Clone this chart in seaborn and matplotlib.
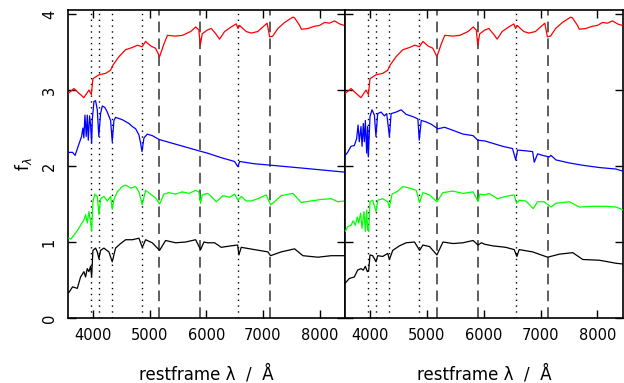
import matplotlib
matplotlib.use("Agg")
import matplotlib.pyplot as plt
import seaborn as sns
import pandas as pd

# --- values ---
# red spectrum (same in both panels)
wl_red = [3570, 3665, 3750, 3840, 3930, 3972, 4000, 4105, 4225, 4310, 4355, 4460, 4575, 4695, 4785,
          4870, 4930, 5020, 5105, 5177, 5255, 5315, 5460, 5580, 5725, 5815, 5870, 5895, 5930, 6020,
          6090, 6180, 6235, 6325, 6440, 6530, 6560, 6590, 6705, 6795, 6910, 7030, 7075, 7120, 7175,
          7265, 7385, 7530, 7560, 7650, 7680, 7795, 7915, 8000, 8090, 8175, 8265, 8355, 8440]
flux_red = [2.96, 3.02, 2.96, 2.90, 3.00, 2.94, 3.15, 3.20, 3.22, 3.26, 3.33, 3.44, 3.53, 3.56, 3.59,
            3.57, 3.64, 3.58, 3.55, 3.44, 3.61, 3.72, 3.71, 3.72, 3.77, 3.83, 3.79, 3.59, 3.74, 3.79,
            3.81, 3.73, 3.67, 3.77, 3.83, 3.87, 3.81, 3.85, 3.77, 3.75, 3.77, 3.85, 3.88, 3.70, 3.71,
            3.81, 3.89, 3.96, 3.95, 3.85, 3.80, 3.81, 3.84, 3.85, 3.89, 3.88, 3.91, 3.87, 3.85]

# left panel
wl_blue_l = [3570, 3640, 3685, 3735, 3800, 3823, 3840, 3859, 3882, 3900, 3918, 3941, 3958, 3977, 3990,
             4018, 4047, 4077, 4104, 4135, 4165, 4212, 4253, 4312, 4341, 4371, 4400, 4518, 4636, 4695,
             4754, 4812, 4842, 4866, 4901, 4960, 5048, 5165, 5400, 5636, 5870, 6020, 6265, 6500, 6560,
             6590, 6850, 7150, 7735, 8440]
flux_blue_l = [2.18, 2.18, 2.14, 2.25, 2.39, 2.50, 2.37, 2.67, 2.39, 2.67, 2.34, 2.66, 2.55, 2.30, 2.62,
               2.85, 2.86, 2.74, 2.39, 2.69, 2.79, 2.77, 2.71, 2.60, 2.32, 2.60, 2.64, 2.61, 2.56, 2.52,
               2.49, 2.41, 2.30, 2.19, 2.37, 2.42, 2.40, 2.35, 2.30, 2.25, 2.20, 2.17, 2.11, 2.06, 1.99,
               2.06, 2.03, 2.01, 1.97, 1.92]

wl_green_l = [3570, 3612, 3665, 3724, 3782, 3841, 3870, 3900, 3929, 3958, 3977, 4000, 4035, 4077, 4106,
              4135, 4194, 4253, 4312, 4341, 4371, 4430, 4518, 4577, 4665, 4754, 4812, 4870, 4930, 5018,
              5106, 5177, 5253, 5342, 5459, 5577, 5695, 5813, 5871, 5900, 5930, 6019, 6060, 6178, 6295,
              6412, 6500, 6560, 6618, 6706, 6795, 6912, 7059, 7136, 7206, 7324, 7530, 7677, 7854, 8030,
              8207, 8324, 8440]
flux_green_l = [1.05, 1.04, 1.09, 1.15, 1.22, 1.29, 1.36, 1.25, 1.40, 1.27, 1.14, 1.53, 1.63, 1.60, 1.36,
                1.57, 1.60, 1.54, 1.60, 1.43, 1.56, 1.66, 1.73, 1.75, 1.71, 1.73, 1.66, 1.49, 1.68, 1.63,
                1.58, 1.50, 1.63, 1.65, 1.63, 1.66, 1.64, 1.68, 1.66, 1.51, 1.62, 1.64, 1.62, 1.53, 1.61,
                1.59, 1.63, 1.55, 1.60, 1.54, 1.54, 1.57, 1.62, 1.49, 1.53, 1.61, 1.64, 1.52, 1.54, 1.56,
                1.57, 1.53, 1.54]

wl_black_l = [3570, 3641, 3724, 3782, 3841, 3870, 3900, 3929, 3958, 3977, 4000, 4047, 4077, 4106, 4135,
              4194, 4282, 4341, 4400, 4489, 4577, 4695, 4812, 4872, 4930, 5047, 5177, 5283, 5459, 5636,
              5813, 5901, 5960, 6019, 6148, 6265, 6442, 6555, 6577, 6618, 6853, 7089, 7136, 7324, 7560,
              7707, 7972, 8207, 8440]
flux_black_l = [0.33, 0.41, 0.39, 0.54, 0.61, 0.54, 0.65, 0.61, 0.68, 0.54, 0.89, 0.92, 0.87, 0.78, 0.89,
                0.92, 0.87, 0.74, 0.92, 0.98, 1.03, 1.03, 1.05, 0.93, 1.03, 0.99, 0.89, 1.02, 0.99, 1.00,
                1.03, 0.90, 1.00, 0.99, 0.99, 0.93, 0.95, 0.96, 0.83, 0.93, 0.90, 0.87, 0.82, 0.87, 0.91,
                0.82, 0.80, 0.82, 0.82]

# right panel
wl_blue_r = [3565, 3606, 3665, 3724, 3765, 3790, 3812, 3841, 3860, 3882, 3900, 3918, 3941, 3958, 3970,
             4000, 4035, 4077, 4104, 4135, 4194, 4253, 4294, 4341, 4371, 4459, 4548, 4636, 4754, 4842,
             4866, 4901, 4989, 5077, 5194, 5312, 5459, 5636, 5813, 5895, 6019, 6154, 6330, 6507, 6563,
             6595, 6742, 6860, 6889, 6948, 7036, 7154, 7183, 7272, 7507, 7742, 8036, 8330, 8460]
flux_blue_r = [2.14, 2.18, 2.26, 2.27, 2.36, 2.54, 2.32, 2.52, 2.26, 2.56, 2.32, 2.60, 2.17, 2.52, 2.12,
               2.65, 2.74, 2.67, 2.39, 2.69, 2.71, 2.66, 2.69, 2.39, 2.69, 2.71, 2.74, 2.68, 2.65, 2.62,
               2.34, 2.60, 2.58, 2.55, 2.49, 2.51, 2.47, 2.42, 2.40, 2.34, 2.33, 2.30, 2.26, 2.23, 2.08,
               2.21, 2.20, 2.19, 2.05, 2.16, 2.14, 2.12, 2.14, 2.08, 2.04, 2.01, 1.98, 1.96, 1.93]

wl_green_r = [3565, 3606, 3665, 3706, 3741, 3776, 3800, 3835, 3859, 3894, 3918, 3941, 3958, 3977, 4000,
              4047, 4106, 4135, 4223, 4312, 4341, 4388, 4489, 4577, 4695, 4812, 4872, 4930, 5047, 5177,
              5283, 5459, 5636, 5813, 5901, 5930, 6019, 6095, 6242, 6389, 6536, 6577, 6624, 6742, 6871,
              6948, 7065, 7183, 7272, 7507, 7683, 7919, 8154, 8330, 8460]
flux_green_r = [1.14, 1.20, 1.22, 1.28, 1.22, 1.33, 1.25, 1.38, 1.18, 1.40, 1.14, 1.42, 1.16, 1.14, 1.53,
                1.55, 1.40, 1.55, 1.57, 1.53, 1.46, 1.63, 1.67, 1.73, 1.71, 1.68, 1.52, 1.65, 1.62, 1.53,
                1.65, 1.67, 1.64, 1.66, 1.53, 1.63, 1.62, 1.64, 1.57, 1.60, 1.62, 1.51, 1.55, 1.54, 1.44,
                1.53, 1.53, 1.46, 1.51, 1.53, 1.46, 1.47, 1.47, 1.46, 1.42]

wl_black_r = [3565, 3636, 3724, 3782, 3841, 3882, 3918, 3953, 3977, 4000, 4047, 4106, 4135, 4223, 4312,
              4341, 4400, 4518, 4636, 4783, 4872, 4930, 5047, 5177, 5283, 5459, 5636, 5813, 5901, 5960,
              6019, 6154, 6389, 6536, 6583, 6624, 6860, 7124, 7330, 7566, 7742, 8036, 8330, 8460]
flux_black_r = [0.46, 0.52, 0.54, 0.63, 0.65, 0.63, 0.68, 0.61, 0.63, 0.83, 0.82, 0.74, 0.82, 0.81, 0.85,
                0.77, 0.89, 0.95, 0.99, 1.00, 0.89, 0.96, 0.94, 0.83, 1.00, 0.98, 0.99, 1.02, 0.96, 0.99,
                0.97, 0.95, 0.93, 0.90, 0.81, 0.90, 0.87, 0.80, 0.84, 0.86, 0.77, 0.76, 0.72, 0.71]

# line markers (Angstrom)
dotted_lines = [3970, 4102, 4340, 4861, 6563]
dashed_lines = [5175, 5893, 7125]

xticks = [4000, 5000, 6000, 7000, 8000]
yticks = [0, 1, 2, 3, 4]

sns.set_style("ticks")
plt.rcParams['font.family'] = ['DejaVu Sans']
plt.rcParams['text.color'] = 'black'
plt.rcParams['axes.labelcolor'] = 'black'
plt.rcParams['xtick.color'] = 'black'
plt.rcParams['ytick.color'] = 'black'

fig = plt.figure(figsize=(6.24, 3.83), dpi=100)
W, H = 624, 383
ax_l = fig.add_axes([68 / W, 1 - 318 / H, 277 / W, (318 - 9.5) / H])
ax_r = fig.add_axes([345 / W, 1 - 318 / H, 278 / W, (318 - 9.5) / H], sharey=ax_l)

panels = [
    (ax_l, [(wl_red, flux_red, 'red'), (wl_blue_l, flux_blue_l, 'blue'),
            (wl_green_l, flux_green_l, '#00ff00'), (wl_black_l, flux_black_l, 'black')]),
    (ax_r, [(wl_red, flux_red, 'red'), (wl_blue_r, flux_blue_r, 'blue'),
            (wl_green_r, flux_green_r, '#00ff00'), (wl_black_r, flux_black_r, 'black')]),
]

for ax, series in panels:
    for x in dotted_lines:
        ax.axvline(x, color='black', lw=1.0, linestyle=(0, (1, 3.2)), zorder=1)
    for x in dashed_lines:
        ax.axvline(x, color='#333333', lw=1.1, linestyle=(0, (7, 4)), zorder=1)
    for wl, fl, col in series:
        df = pd.DataFrame({'wl': wl, 'flux': fl})
        sns.lineplot(data=df, x='wl', y='flux', color=col, lw=0.9, ax=ax,
                     estimator=None, sort=False, zorder=3)
    ax.set_xlim(3560, 8450)
    ax.set_ylim(0, 4.06)
    ax.set_xticks(xticks)
    ax.set_yticks(yticks)
    ax.tick_params(direction='in', length=6, width=1, top=True, right=True,
                   labelsize=10.5, pad=7, colors='black')
    for s in ax.spines.values():
        s.set_linewidth(1.2)
        s.set_color('black')
    ax.set_xlabel('restframe λ  /  Å', fontsize=12, labelpad=16, color='black')
    ax.set_ylabel('')

ax_l.tick_params(axis='y', labelrotation=90, pad=8)
for lab in ax_l.get_yticklabels():
    lab.set_va('center')
ax_r.tick_params(axis='y', labelleft=False)
ax_l.set_ylabel('f$_{\\lambda}$', fontsize=12, labelpad=6, color='black')

fig.savefig('out.png', dpi=100)
